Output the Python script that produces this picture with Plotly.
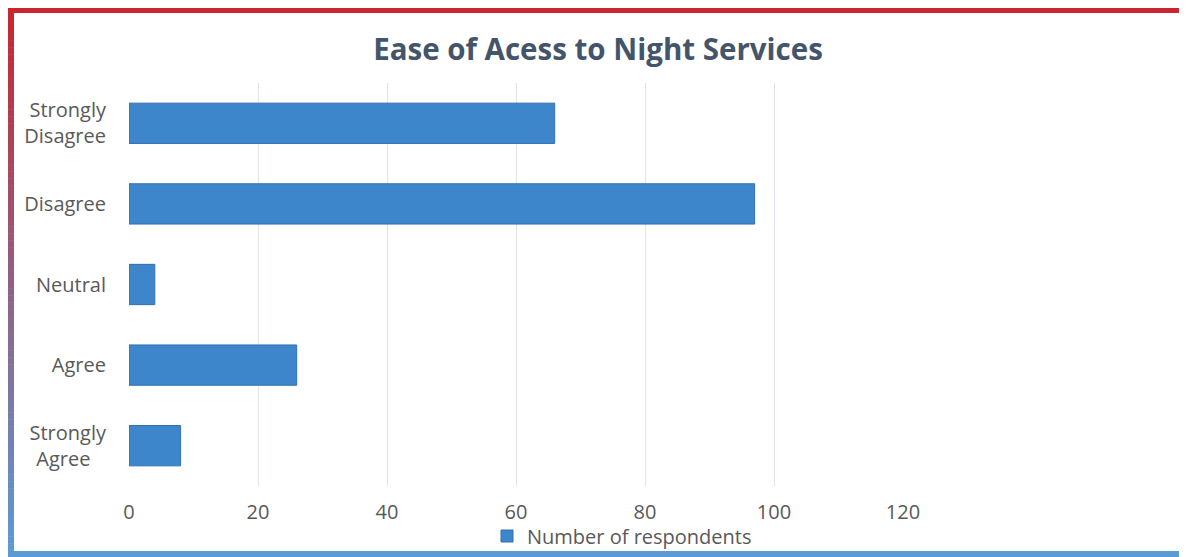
import plotly.graph_objects as go

# ---- data ----
categories = ["Strongly Disagree", "Disagree", "Neutral", "Agree", "Strongly Agree"]
tick_labels = ["Strongly<br>Disagree", "Disagree", "Neutral", "Agree", "Strongly<br>Agree&nbsp;&nbsp;&nbsp;"]
respondents = [66, 97, 4, 26, 8]
x_ticks = [0, 20, 40, 60, 80, 100, 120]
series_name = "Number of respondents"
title_text = "Ease of Acess to Night Services"

# page offset (body margin) compensation
OX, OY = 8, 8
W, H = 1187 - OX, 557 - OY
L, R, T, B = 129 - OX, 1187 - 903, 83 - OY, 557 - 486
PW, PH = W - L - R, H - T - B

def px(x):  # page pixel -> paper x
    return (x - OX - L) / PW

def py(y):  # page pixel -> paper y
    return 1 - (y - OY - T) / PH

fig = go.Figure()
fig.add_trace(go.Bar(
    y=categories, x=respondents, orientation="h", name=series_name,
    marker=dict(color="#3d86cc", line=dict(color="#3370ae", width=1)),
    showlegend=True,
))

# gradient frame (red top -> blue bottom)
shapes = []
top_c = (201, 38, 46)
bot_c = (91, 155, 213)
def mix(t):
    return "rgb(%d,%d,%d)" % tuple(round(a + (b - a) * t) for a, b in zip(top_c, bot_c))

y0f, y1f = 6, 557
n = 80
for i in range(n):
    ya = y0f + (y1f - y0f) * i / n
    yb = y0f + (y1f - y0f) * (i + 1) / n + 0.5
    col = mix(i / (n - 1))
    for xa, xb in [(8, 14), (1180, 1187)]:
        shapes.append(dict(type="rect", xref="paper", yref="paper",
                           x0=px(xa), x1=px(xb), y0=py(yb), y1=py(ya),
                           fillcolor=col, line=dict(width=0), layer="above"))
shapes.append(dict(type="rect", xref="paper", yref="paper",
                   x0=px(8), x1=px(1187), y0=py(13), y1=py(6),
                   fillcolor=mix(0), line=dict(width=0), layer="above"))
shapes.append(dict(type="rect", xref="paper", yref="paper",
                   x0=px(8), x1=px(1187), y0=py(557), y1=py(551),
                   fillcolor=mix(1), line=dict(width=0), layer="above"))

FONT = "Open Sans"
fig.update_layout(
    width=W, height=H,
    margin=dict(l=L, r=R, t=T, b=B, autoexpand=False),
    paper_bgcolor="white", plot_bgcolor="white",
    font=dict(family=FONT, color="#595959", size=20),
    title=dict(text="<b>%s</b>" % title_text, x=(598 - OX) / W, xanchor="center",
               y=1 - (50 - OY) / H, yanchor="middle",
               font=dict(family=FONT, size=29.5, color="#44546a")),
    bargap=0.5,
    xaxis=dict(range=[0, 120], tickvals=x_ticks,
               showgrid=True, gridcolor="#dfe3ea", gridwidth=1,
               zeroline=False, showline=False, ticks="",
               ticklabelstandoff=12, tickfont=dict(size=20, color="#595959"),
               fixedrange=True),
    yaxis=dict(categoryorder="array", categoryarray=categories[::-1],
               tickmode="array", tickvals=categories, ticktext=tick_labels,
               showgrid=False, zeroline=False, showline=False, ticks="",
               ticklabelstandoff=22, tickfont=dict(size=20, color="#595959")),
    legend=dict(orientation="h", x=px(487), xanchor="left",
                y=py(536), yanchor="middle",
                font=dict(size=20, color="#595959"),
                itemwidth=30, bgcolor="rgba(0,0,0,0)"),
    shapes=shapes,
)

fig.write_html("out.html")
